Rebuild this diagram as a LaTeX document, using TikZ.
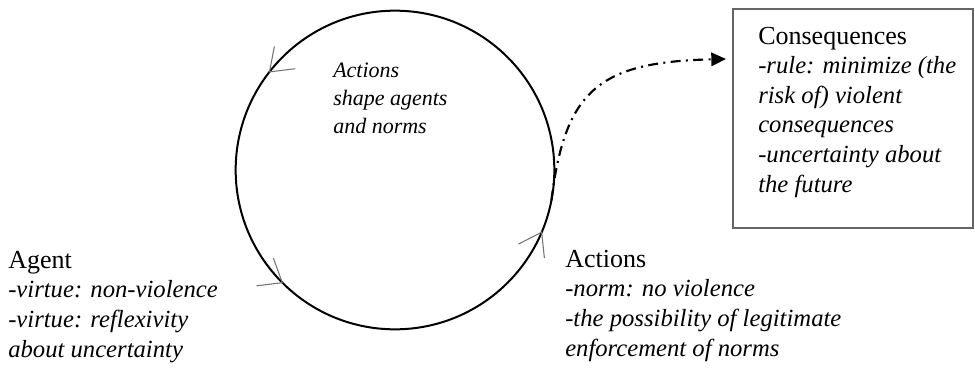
\documentclass[tikz,border=0pt]{standalone}
\usepackage{fontspec}
\setmainfont{Liberation Serif}
\usetikzlibrary{arrows.meta}
\newcommand{\blockhead}[1]{{\upshape\fontsize{19.5}{22.2}\selectfont #1}}

\begin{document}
\begin{tikzpicture}[x = 0.75pt, y = 0.75pt,
    block/.style = {anchor = base west, inner sep = 0pt, align = left,
        font = \fontsize{18.5}{22.2}\selectfont\itshape},
    inner/.style = {anchor = base west, inner sep = 0pt, align = left,
        font = \fontsize{16.5}{21}\selectfont\itshape},
    barb/.style = {draw = black!55, line width = 0.8pt},
    link/.style = {line width = 1.6pt, dash pattern = on 7.5pt off 4pt on 1.5pt off 4pt,
        -{Triangle[length = 11pt, width = 10pt]}}]
    \useasboundingbox (0,0) rectangle (975,369);
    \node[circle, draw, line width = 1.5pt, minimum size = 239pt, inner sep = 0pt, outer sep = 0pt] (cycle) at (395,199) {};
    \foreach \a/\p/\q in {142/79/7, 225/110/187, 337/207/276}
        \draw[barb] (cycle.\a) ++(\p:26) -- (cycle.\a) -- ++(\q:26);
    % base anchor = last line
    \node[inner] (shape) at (333,236) {Actions\\shape agents\\and norms};
    \node[block] (agent) at (8,12) {\blockhead{Agent}\\-virtue: non-violence\\-virtue: reflexivity\\about uncertainty};
    \node[block] (actions) at (565,13) {\blockhead{Actions}\\-norm: no violence\\-the possibility of legitimate\\enforcement of norms};
    \node[block] (cons) at (758,177) {\blockhead{Consequences}\\-rule: minimize (the\\risk of) violent\\consequences\\-uncertainty about\\the future};
    \draw[draw = black!60, line width = 1.2pt] (733,360) rectangle (973,141);
    \coordinate (tip) at (726,310);
    \draw[link] (cycle.-11) .. controls (565,280) and (600,307) .. (tip);
\end{tikzpicture}
\end{document}
